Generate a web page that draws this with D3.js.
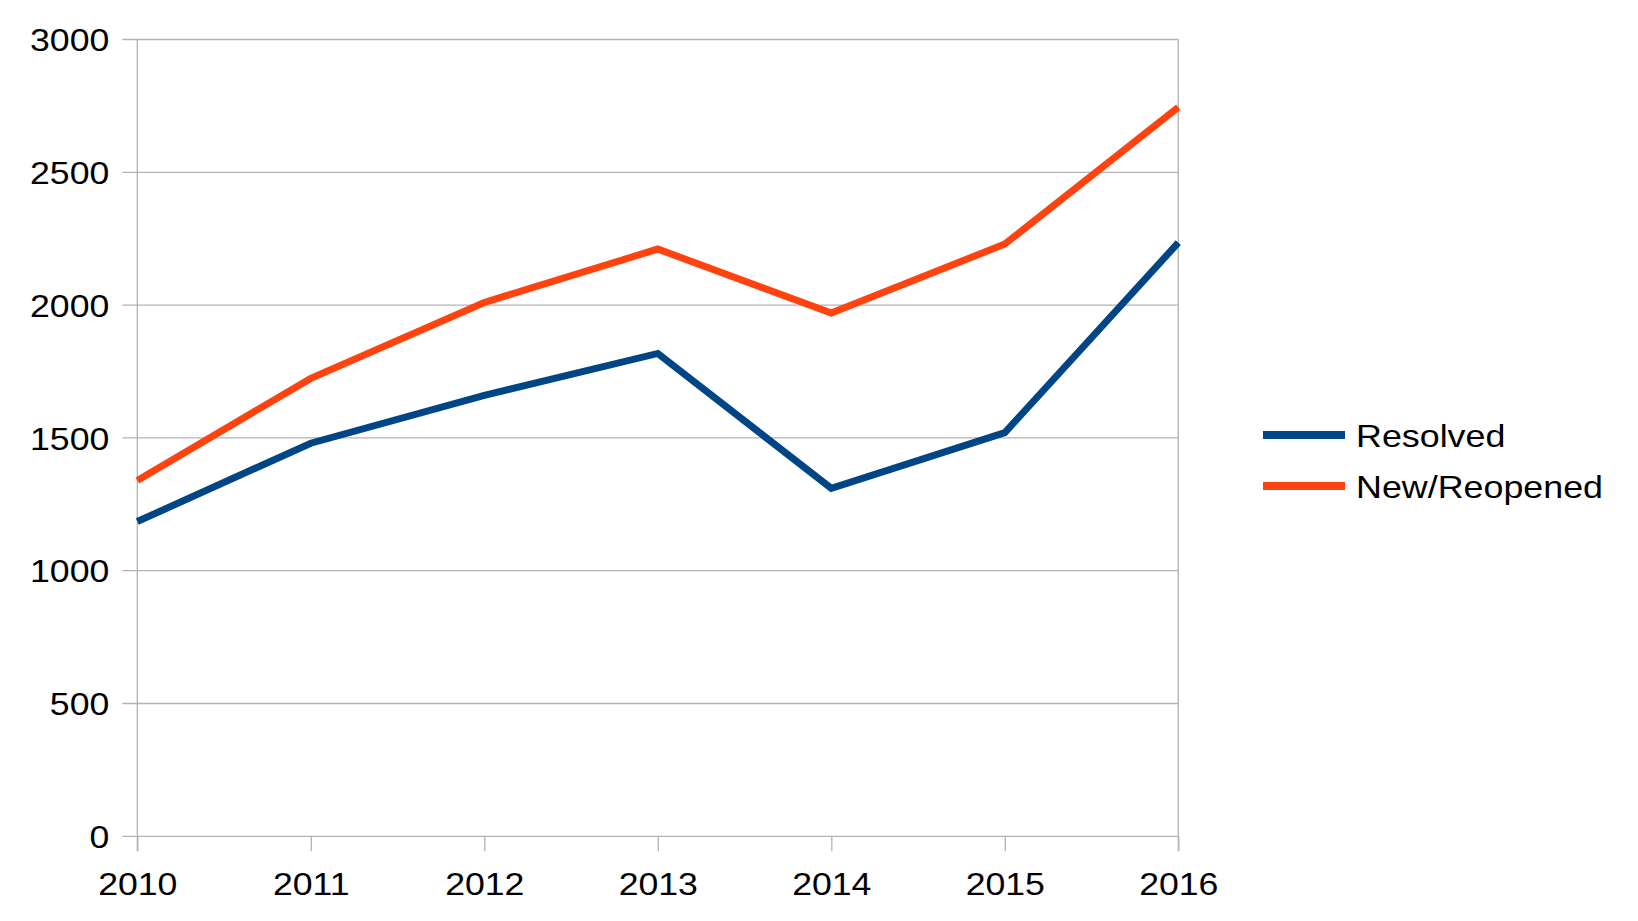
<!DOCTYPE html>
<html><head><meta charset="utf-8">
<script src="https://cdn.jsdelivr.net/npm/d3@7"></script>
<style>body{margin:0;background:#fff}svg{display:block}text{font-family:"Liberation Sans",Arial,sans-serif;fill:#000}</style>
</head><body>
<svg id="c" width="1638" height="921"></svg>
<script>
const years = [2010, 2011, 2012, 2013, 2014, 2015, 2016];
const resolved = [1185, 1480, 1660, 1818, 1310, 1520, 2235];
const newReopened = [1340, 1724, 2010, 2211, 1970, 2230, 2745];
const yTicks = [0, 500, 1000, 1500, 2000, 2500, 3000];
const seriesNames = ["Resolved", "New/Reopened"];
const seriesColors = ["#004586", "#ff420e"];

const svg = d3.select("#c");
const L = 137.3, R = 1178.3, T = 39.5, B = 836.3;
const SX = 1.15, FS = 31;
const x = d3.scaleLinear().domain([2010, 2016]).range([L, R]);
const y = d3.scaleLinear().domain([0, 3000]).range([B, T]);

// gridlines
svg.append("g").selectAll("line").data(yTicks).join("line")
  .attr("x1", L - 15).attr("x2", R).attr("y1", d => y(d)).attr("y2", d => y(d))
  .attr("stroke", "#b3b3b3").attr("stroke-width", 1.3);
// vertical borders
svg.append("line").attr("x1", L).attr("x2", L).attr("y1", T).attr("y2", B + 15).attr("stroke", "#b3b3b3").attr("stroke-width", 1.3);
svg.append("line").attr("x1", R).attr("x2", R).attr("y1", T).attr("y2", B + 15).attr("stroke", "#b3b3b3").attr("stroke-width", 1.3);

// y axis labels
const ya = svg.append("g").attr("transform", `translate(${L},0)`)
  .call(d3.axisLeft(y).tickValues(yTicks).tickSize(0).tickFormat(d3.format("d")));
ya.select(".domain").remove();
ya.selectAll("text").attr("x", 0).attr("dy", null).attr("y", 0)
  .attr("font-size", FS).attr("text-anchor", "end")
  .attr("transform", `translate(-28,11.2) scale(${SX},1)`);

// x axis
const xa = svg.append("g").attr("transform", `translate(0,${B})`)
  .call(d3.axisBottom(x).tickValues(years).tickSize(15).tickFormat(d3.format("d")));
xa.select(".domain").remove();
xa.selectAll("line").attr("stroke", "#b3b3b3").attr("stroke-width", 1.3);
xa.selectAll("text").attr("y", 0).attr("dy", null).attr("font-size", FS)
  .attr("text-anchor", "middle").attr("transform", `translate(0,58.7) scale(${SX},1)`);

// lines
const line = d3.line().x((d, i) => x(years[i])).y(d => y(d));
[resolved, newReopened].forEach((s, k) => {
  svg.append("path").datum(s).attr("d", line).attr("fill", "none")
    .attr("stroke", seriesColors[k]).attr("stroke-width", 7).attr("stroke-linejoin", "miter");
});

// legend
const legY = [435, 486];
seriesNames.forEach((n, k) => {
  svg.append("line").attr("x1", 1263).attr("x2", 1345).attr("y1", legY[k]).attr("y2", legY[k])
    .attr("stroke", seriesColors[k]).attr("stroke-width", 8);
  svg.append("text").text(n).attr("font-size", FS + 1)
    .attr("transform", `translate(1356,${legY[k] + 11.8}) scale(${SX - 0.03},1)`);
});
</script>
</body></html>
